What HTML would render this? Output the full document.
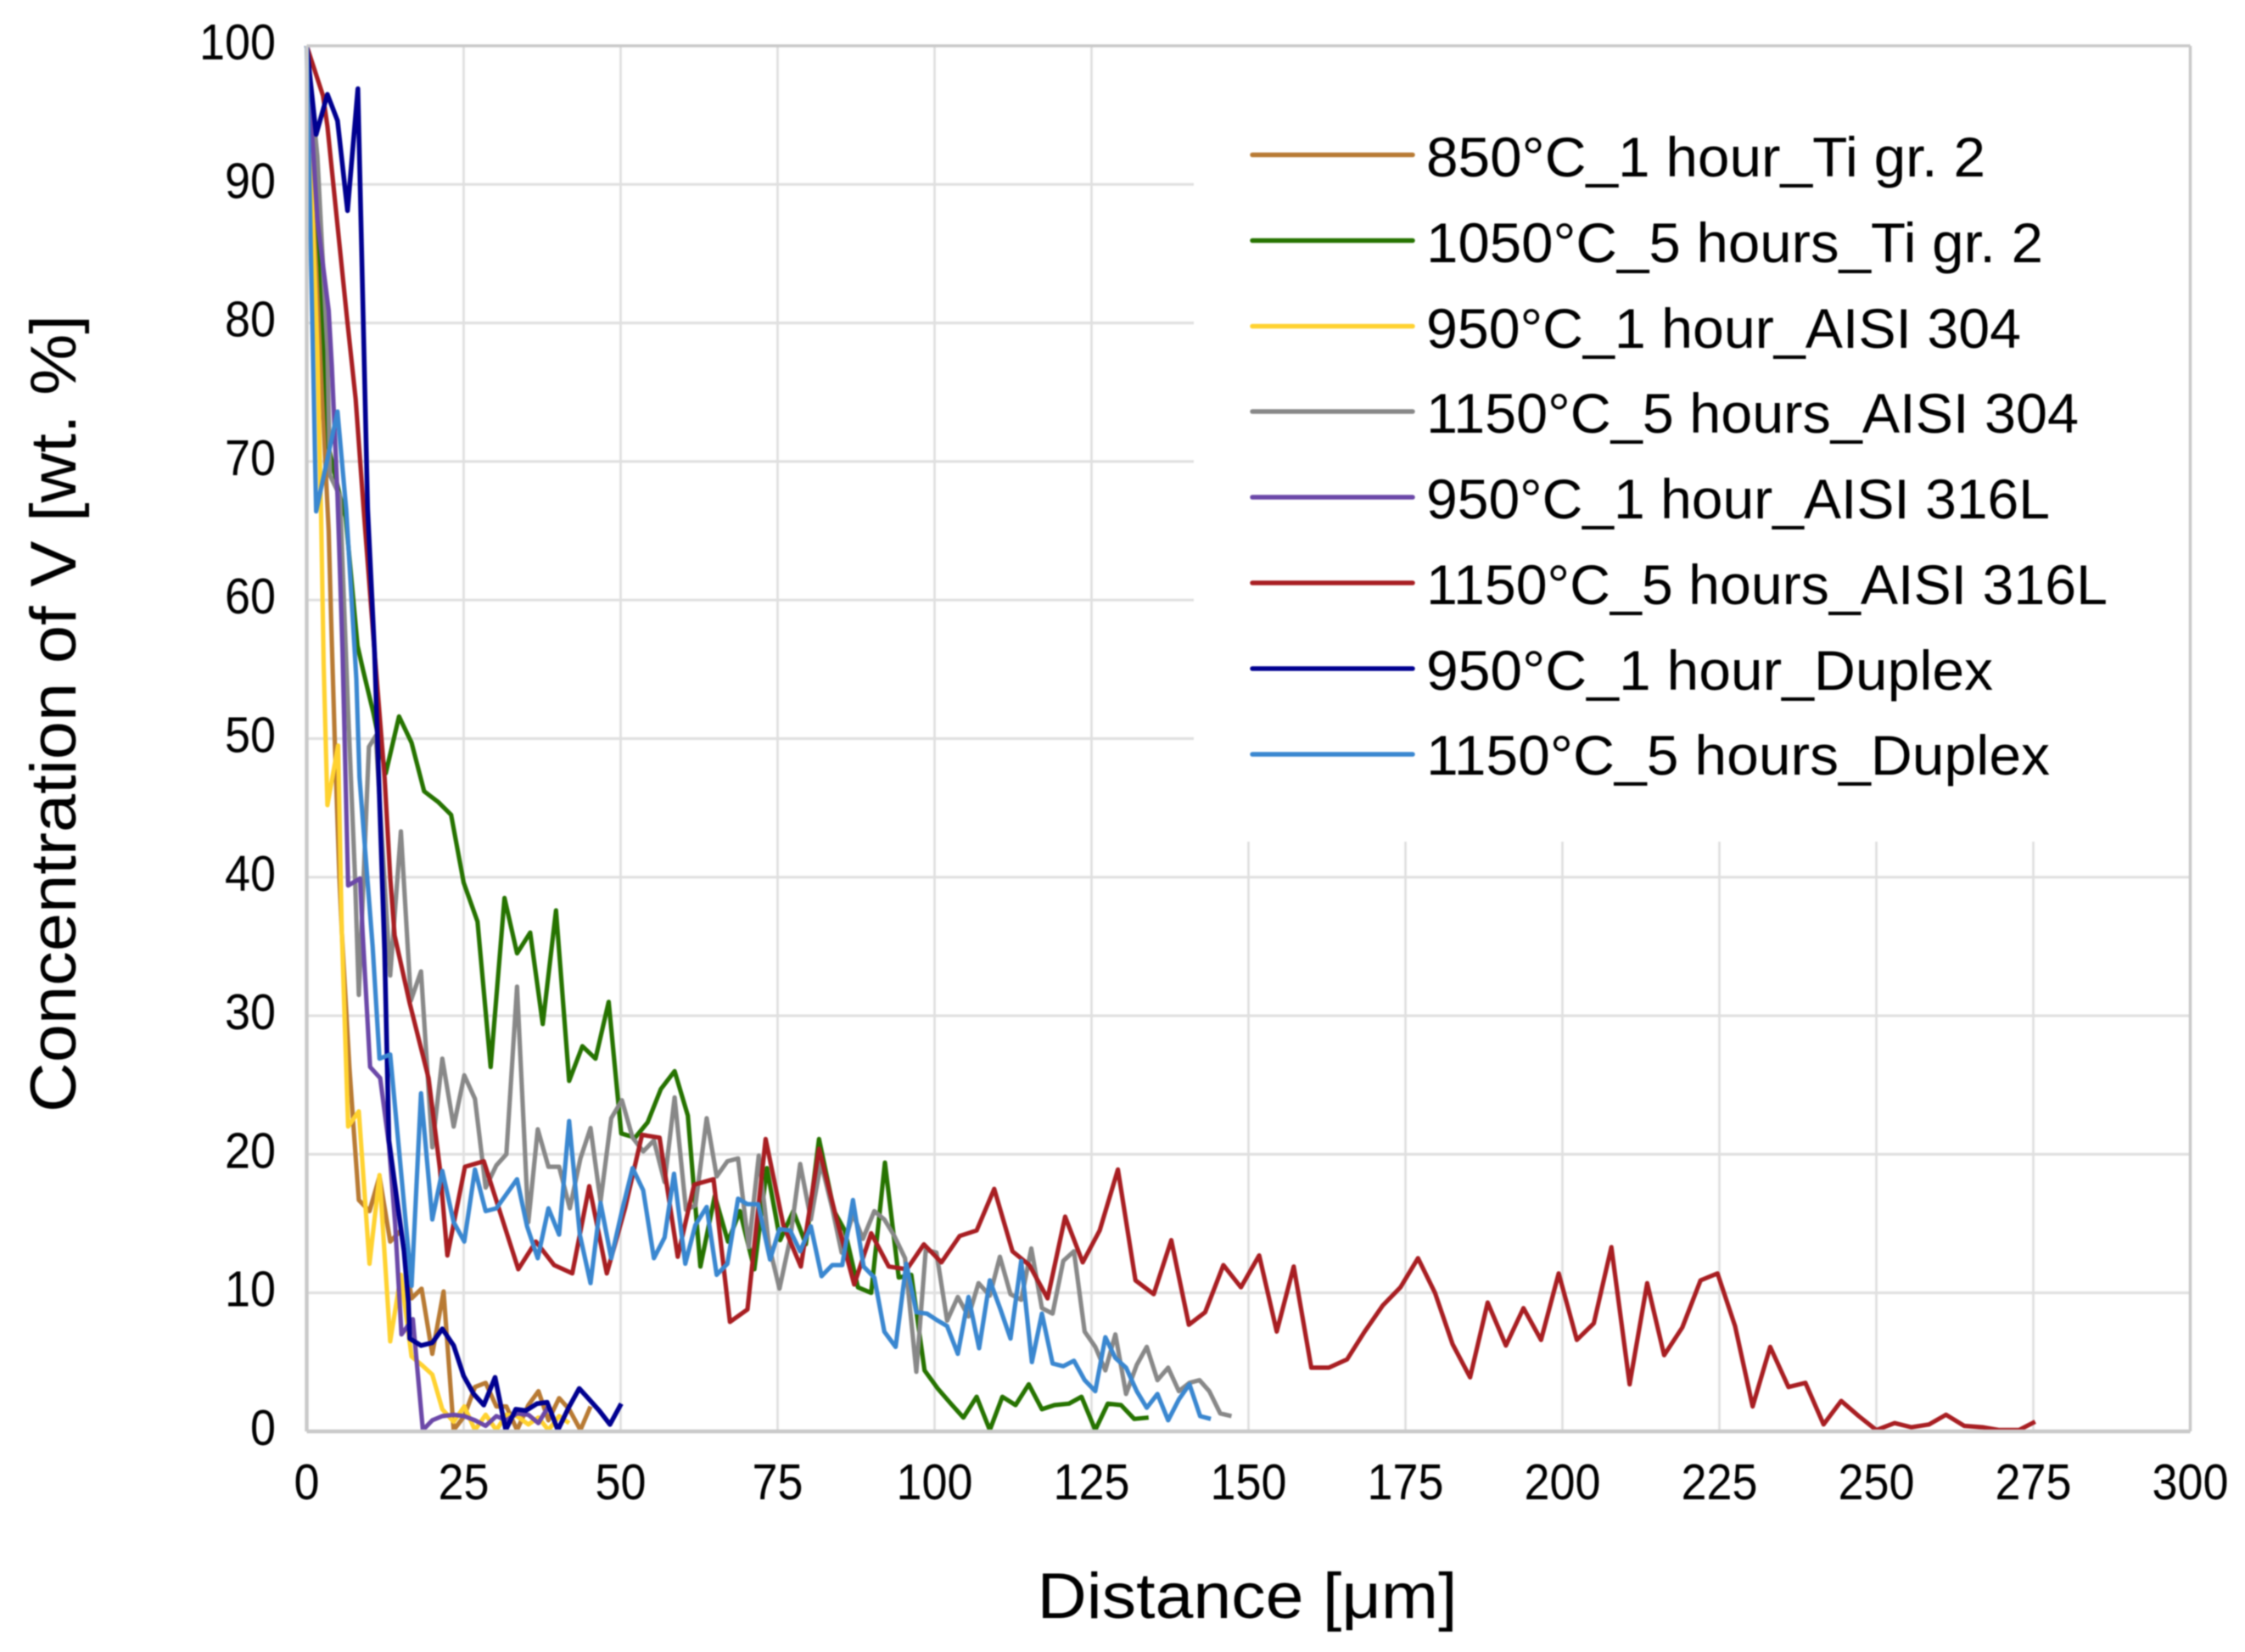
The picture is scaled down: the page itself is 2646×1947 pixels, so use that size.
<!DOCTYPE html>
<html lang="en">
<head>
<meta charset="utf-8">
<title>Concentration of V vs distance</title>
<style>
html,body{margin:0;padding:0;background:#fff;overflow:hidden;}
svg{display:block;font-family:"Liberation Sans",Arial,sans-serif;filter:blur(0.7px);}
</style>
</head>
<body>
<svg id="chart" xmlns="http://www.w3.org/2000/svg" width="2646" height="1947" viewBox="0 0 2646 1947">
  <rect x="0" y="0" width="2646" height="1947" fill="#ffffff"/>
  <g id="grid"></g>
  <rect x="1407" y="50" width="1173" height="942" fill="#ffffff"/>
  <g id="series"></g>
  <g id="frame"></g>
  <g id="ticks" font-size="59" fill="#000000"></g>
  <text transform="translate(89,841) rotate(-90)" text-anchor="middle" font-size="76" textLength="940" lengthAdjust="spacingAndGlyphs" fill="#000">Concentration of V [wt. %]</text>
  <text x="1470" y="1907" text-anchor="middle" font-size="76" textLength="495" lengthAdjust="spacingAndGlyphs" fill="#000">Distance [μm]</text>
  <g font-size="66" fill="#000">
    <g><line x1="1476" x2="1665" y1="182.5" y2="182.5" stroke="#B87A33" stroke-width="5.5" stroke-linecap="round"/><text x="1681" y="208" textLength="659" lengthAdjust="spacingAndGlyphs">850°C_1 hour_Ti gr. 2</text></g>
    <g><line x1="1476" x2="1665" y1="283.5" y2="283.5" stroke="#267300" stroke-width="5.5" stroke-linecap="round"/><text x="1681" y="309" textLength="727" lengthAdjust="spacingAndGlyphs">1050°C_5 hours_Ti gr. 2</text></g>
    <g><line x1="1476" x2="1665" y1="384.5" y2="384.5" stroke="#FFD230" stroke-width="5.5" stroke-linecap="round"/><text x="1681" y="410" textLength="701" lengthAdjust="spacingAndGlyphs">950°C_1 hour_AISI 304</text></g>
    <g><line x1="1476" x2="1665" y1="485" y2="485" stroke="#888888" stroke-width="5.5" stroke-linecap="round"/><text x="1681" y="510" textLength="769" lengthAdjust="spacingAndGlyphs">1150°C_5 hours_AISI 304</text></g>
    <g><line x1="1476" x2="1665" y1="586" y2="586" stroke="#6B48A8" stroke-width="5.5" stroke-linecap="round"/><text x="1681" y="611" textLength="735" lengthAdjust="spacingAndGlyphs">950°C_1 hour_AISI 316L</text></g>
    <g><line x1="1476" x2="1665" y1="687" y2="687" stroke="#A81E22" stroke-width="5.5" stroke-linecap="round"/><text x="1681" y="712" textLength="803" lengthAdjust="spacingAndGlyphs">1150°C_5 hours_AISI 316L</text></g>
    <g><line x1="1476" x2="1665" y1="788" y2="788" stroke="#000090" stroke-width="5.5" stroke-linecap="round"/><text x="1681" y="813" textLength="668" lengthAdjust="spacingAndGlyphs">950°C_1 hour_Duplex</text></g>
    <g><line x1="1476" x2="1665" y1="889" y2="889" stroke="#3A87D0" stroke-width="5.5" stroke-linecap="round"/><text x="1681" y="913" textLength="735" lengthAdjust="spacingAndGlyphs">1150°C_5 hours_Duplex</text></g>
  </g>
</svg>
<script>
const xTicks = [0,25,50,75,100,125,150,175,200,225,250,275,300];
const yTicks = [0,10,20,30,40,50,60,70,80,90,100];

const brownD = [0,3.1,3.5,3.9,4.5,5.2,5.6,6.8,7.5,8.3,10,11.6,13.3,15,16.7,18.3,20,21.8,23.4,25.1,26.8,28.5,30.2,31.8,33.5,35.3,36.9,38.5,40.2,41.8,43.6,45.2];
const brownV = [100,68.7,65,58.4,49.4,40,36,26.3,21.7,16.7,15.9,18.4,13.7,14.5,9.6,10.3,5.6,10.1,0.1,1.1,3.2,3.5,1.8,1.8,0.1,1.9,2.9,0.8,2.4,1.6,0.1,1.8];

const greenD = [0,2.2,3.5,5.3,6.2,8.1,9,10.6,12.6,14.7,16.7,18.7,21,23,25,27.2,29.3,31.5,33.5,35.6,37.6,39.7,41.8,43.9,46,48.1,50.1,52.3,54.3,56.4,58.6,60.7,62.7,65,67.1,69,71.3,73.3,75.4,77.5,79.5,81.6,84,85.7,87.8,89.9,92.1,94.3,96.3,98.4,100.5,102.6,104.6,106.7,108.8,110.8,112.9,115,117.1,119.1,121.4,123.4,125.6,127.6,129.7,131.8,134.1];
const greenV = [100,84,71,67.5,66,56.7,54.9,51.9,47.5,51.6,49.7,46.2,45.4,44.5,39.6,36.8,26.3,38.5,34.5,36,29.4,37.6,25.3,27.8,26.9,31,21.5,21.2,22.3,24.7,26,22.8,11.9,17,13.7,15.9,11.7,19,13.8,15.9,13.5,21.1,15.9,14.5,10.4,10,19.4,11.1,11.3,4.4,3.1,2,1,2.5,0.1,2.5,1.9,3.4,1.6,1.9,2,2.5,0.1,2,1.9,0.9,1];

const yellowD = [0,1.7,2.3,2.7,3.3,5,5.6,6.6,8.3,10,11.6,13.3,15,16.7,18.3,20,21.6,23.4,25.1,26.8,28.5,30.2,31.8,33.5,35.3,36.9,38.5,40.2,41.8];
const yellowV = [100,78,66,55.3,45.2,49.5,36,22,23.1,12.1,18.5,6.5,11.3,5.4,4.8,4.1,1.6,0.7,1.8,0.1,1.2,0.1,1.2,1.1,0.5,1,0.1,1.1,0.6];

const grayD = [0,1.7,3.3,3.7,5.3,6.6,7.7,8.3,9.9,11,13.3,15,16.6,18.2,20,21.6,23.4,25.1,26.8,28.5,30.2,31.8,33.5,35.3,36.8,38.5,40.2,41.9,43.6,45.2,46.8,48.5,50.2,51.9,53.6,55.3,57,58.6,60.4,61.9,63.7,65.3,67,68.7,70.4,72,73.6,75.3,77,78.6,80.3,81.9,83.7,85.2,87,88.6,90.4,92,93.6,95.3,97.1,98.6,100.3,102,103.7,105.4,107,108.8,110.4,112.1,113.8,115.4,117.1,118.8,120.5,122.2,123.9,125.6,127.2,128.8,130.5,132.2,133.8,135.5,137.2,138.9,140.6,142.2,143.75,145.5,147.3];
const grayV = [100,92,78,69,67.5,52,39.9,31.5,49.4,50.2,32.9,43.3,31.1,33.2,20.5,26.9,22,25.7,24,17.6,19.2,20,32.1,15.1,21.8,19.1,19.1,16.1,19.7,21.9,16.6,22.6,23.9,21.2,20.2,21,18,24.1,16,16.3,22.6,18.4,19.5,19.7,13.3,19.9,13.5,10.3,13.9,19.3,15.3,19.4,16.1,12.9,15.7,13.9,15.9,15.3,14.1,12.5,4.3,13.1,12.9,8,9.7,8.3,10.7,9.8,12.6,9.9,9.5,13.2,8.9,8.5,12.3,13,7.2,6.1,4.4,7,2.7,4.8,6.1,3.7,4.6,2.9,3.5,3.7,2.9,1.3,1.1];

const purpleD = [0,1.7,3.5,4,4.9,5.7,6.6,8.5,8.9,10.1,11.7,13.1,14.1,15.1,16.9,18.5,20,21.6,23.4,25.1,26.8,28.5,30.2,31.8,33.5,35.3,36.9,38.5];
const purpleV = [100,87.4,80.9,76.9,67.5,56.3,39.4,39.9,36,26.3,25.5,20.7,14.9,7,8.1,0.1,0.8,1.1,1.2,1.1,0.8,0.4,1.1,0.8,1.3,1.2,0.6,1.8];

const redD = [0,2.6,3.3,5.1,6.4,7.8,9.1,10.8,12.4,13.3,14,16.4,19.4,21.2,22.4,25.2,28.2,31.1,33.7,36.5,39.4,42.3,45,47.8,50.7,53.4,56.2,59.1,61.7,64.8,67.4,70.2,73.1,75.9,78.7,81.6,84.3,87.2,89.9,92.7,95.6,98.3,101.1,104,106.7,109.5,112.4,115.1,118,120.8,123.6,126.3,129.2,132,134.9,137.7,140.5,143.1,146,148.8,151.7,154.5,157.2,160,162.8,165.7,168.5,171.4,174.2,177,179.7,182.5,185.3,188.1,191,193.8,196.6,199.4,202.3,205,207.8,210.7,213.5,216.2,219.1,222,224.7,227.5,230.3,233.1,236,238.7,241.6,244.4,247.2,250,252.9,255.6,258.4,261.1,264,266.9,269.6,272.7,275.3];
const redV = [100,96.4,94.2,86.2,80.4,74.5,66.4,56.3,47.2,40,35.8,30.9,25.5,19,12.7,19.1,19.5,15.4,11.7,13.7,12,11.4,17.7,11.4,16.1,21.4,21.2,12.6,17.8,18.2,7.9,8.8,21.1,14.9,11.9,20.4,15.5,10.6,14.3,11.9,11.7,13.5,12.2,14.1,14.5,17.5,13,12,9.6,15.5,12.2,14.5,18.9,10.9,9.9,13.8,7.7,8.6,12,10.4,12.7,7.2,11.9,4.6,4.6,5.2,7.2,9.1,10.4,12.5,10,6.3,3.9,9.3,6.2,8.9,6.6,11.4,6.6,7.8,13.3,3.4,10.7,5.5,7.5,10.9,11.4,7.6,1.8,6.1,3.2,3.5,0.5,2.2,1.1,0.1,0.6,0.3,0.5,1.2,0.4,0.3,0.1,0.1,0.7];

const navyD = [0,1.5,3.3,4.9,6.5,8.15,9.7,10.8,12.4,13.1,14.4,15.5,16.2,16.4,18.2,20,21.6,23.4,25,26.6,28.2,30,31.7,33.3,34.9,36.7,38.3,40,41.7,43.4,45,46.6,48.3,50.1];
const navyV = [100,93.6,96.5,94.6,88.1,96.9,66.6,56.3,34.7,21,16.6,13,9.3,6.7,6.2,6.4,7.4,6.2,4,2.7,1.9,3.9,0.1,1.6,1.5,2,2.1,0.1,1.7,3.1,2.3,1.5,0.5,2];

const blueD = [0,1.5,4.9,6.3,7.9,8.4,10.5,11.6,13.3,16.7,18.2,20,21.6,23.4,25.1,26.8,28.5,30.2,33.5,35.1,36.8,38.5,40.2,41.8,43.5,45.2,46.8,48.5,50.2,51.9,53.6,55.3,57,58.5,60.3,61.9,63.7,65.3,67,68.7,70.2,71.9,73.8,75.3,77,78.6,80.3,82,83.7,85.3,87,88.7,90.4,92,93.8,95.5,97.1,98.8,100.5,102,103.7,105.4,107.1,108.8,110.5,112.1,113.8,115.5,117.1,118.8,120.5,122.2,123.9,125.6,127.2,128.8,130.5,132.2,133.8,135.5,137.2,138.9,140.6,142.3,144];
const blueV = [100,66.4,73.6,66.5,54.3,47.2,35,26.9,27.2,10.5,24.4,15.3,18.8,15.1,13.7,18.9,15.9,16.1,18.2,14.8,12.5,16.1,14.2,22.4,14.2,10.7,16.5,12.5,15.9,19,17.4,12.5,14,18.6,12.1,14.9,16.2,11.3,12.1,16.8,16.4,16.4,12.4,14.6,14.5,13,14.8,11.2,12,12,16.7,11.9,11.1,7.2,6.1,12.1,8.6,8.5,8,7.6,5.6,9.7,6,10.9,8.8,6.7,12.3,5,8.5,4.9,4.7,5.1,3.7,2.9,6.8,5.3,4.6,2.9,1.7,2.7,0.8,2.3,3.4,1.1,0.9];

const NS = 'http://www.w3.org/2000/svg';
const plotLeft = 361.5, plotRight = 2581.5, plotTop = 54, plotBottom = 1687;
function xScale(d){ return plotLeft + (d / 300) * (plotRight - plotLeft); }
function yScale(v){ return plotBottom - (v / 100) * (plotBottom - plotTop); }

const gridGroup = document.getElementById('grid');
const frameGroup = document.getElementById('frame');
const seriesGroup = document.getElementById('series');
const tickGroup = document.getElementById('ticks');

function makeLine(x1, y1, x2, y2, color, width){
  const l = document.createElementNS(NS, 'line');
  l.setAttribute('x1', x1); l.setAttribute('y1', y1);
  l.setAttribute('x2', x2); l.setAttribute('y2', y2);
  l.setAttribute('stroke', color); l.setAttribute('stroke-width', width);
  return l;
}

yTicks.forEach(function(t){
  const y = yScale(t);
  if (t > 0 && t < 100) {
    const g = makeLine(plotLeft, y, plotRight, y, '#E0E0E0', 3.2);
    
    
    gridGroup.appendChild(g);
  }
  const label = document.createElementNS(NS, 'text');
  
  
  label.setAttribute('x', 325);
  label.setAttribute('y', y + 16);
  label.setAttribute('text-anchor', 'end');
  label.setAttribute('textLength', String(t).length * 30);
  label.setAttribute('lengthAdjust', 'spacingAndGlyphs');
  label.textContent = String(t);
  tickGroup.appendChild(label);
});

xTicks.forEach(function(t){
  const x = xScale(t);
  if (t > 0 && t < 300) {
    const g = makeLine(x, plotTop, x, plotBottom, '#E0E0E0', 2.8);
    
    
    gridGroup.appendChild(g);
  }
  const label = document.createElementNS(NS, 'text');
  
  
  label.setAttribute('x', x);
  label.setAttribute('y', 1767);
  label.setAttribute('text-anchor', 'middle');
  label.setAttribute('textLength', String(t).length * 30);
  label.setAttribute('lengthAdjust', 'spacingAndGlyphs');
  label.textContent = String(t);
  tickGroup.appendChild(label);
});

[[plotLeft,plotTop,plotRight,plotTop,3.5],[plotLeft,plotBottom,plotRight,plotBottom,4.5],[plotLeft,plotTop,plotLeft,plotBottom,4.5],[plotRight,plotTop,plotRight,plotBottom,3.5]].forEach(function(f){
  const a = makeLine(f[0], f[1], f[2], f[3], '#C9C9C9', f[4]);
  
  
  frameGroup.appendChild(a);
});

function drawSeries(name, ds, vs, color, width){
  const p = document.createElementNS(NS, 'polyline');
  
  
  p.setAttribute('points', ds.map(function(d, i){ return xScale(d).toFixed(1) + ',' + yScale(vs[i]).toFixed(1); }).join(' '));
  p.setAttribute('fill', 'none');
  p.setAttribute('stroke', color);
  p.setAttribute('stroke-width', width);
  p.setAttribute('stroke-linejoin', 'round');
  p.setAttribute('stroke-linecap', 'butt');
  seriesGroup.appendChild(p);
}
drawSeries('series-850-1h-ti', brownD, brownV, '#B87A33', 5.2);
drawSeries('series-1050-5h-ti', greenD, greenV, '#267300', 5.2);
drawSeries('series-950-1h-304', yellowD, yellowV, '#FFD230', 5.2);
drawSeries('series-1150-5h-304', grayD, grayV, '#888888', 5.2);
drawSeries('series-950-1h-316l', purpleD, purpleV, '#6B48A8', 5.2);
drawSeries('series-1150-5h-316l', redD, redV, '#A81E22', 5.2);
drawSeries('series-950-1h-duplex', navyD, navyV, '#000090', 5.6);
drawSeries('series-1150-5h-duplex', blueD, blueV, '#3A87D0', 5.2);
</script>
</body>
</html>
